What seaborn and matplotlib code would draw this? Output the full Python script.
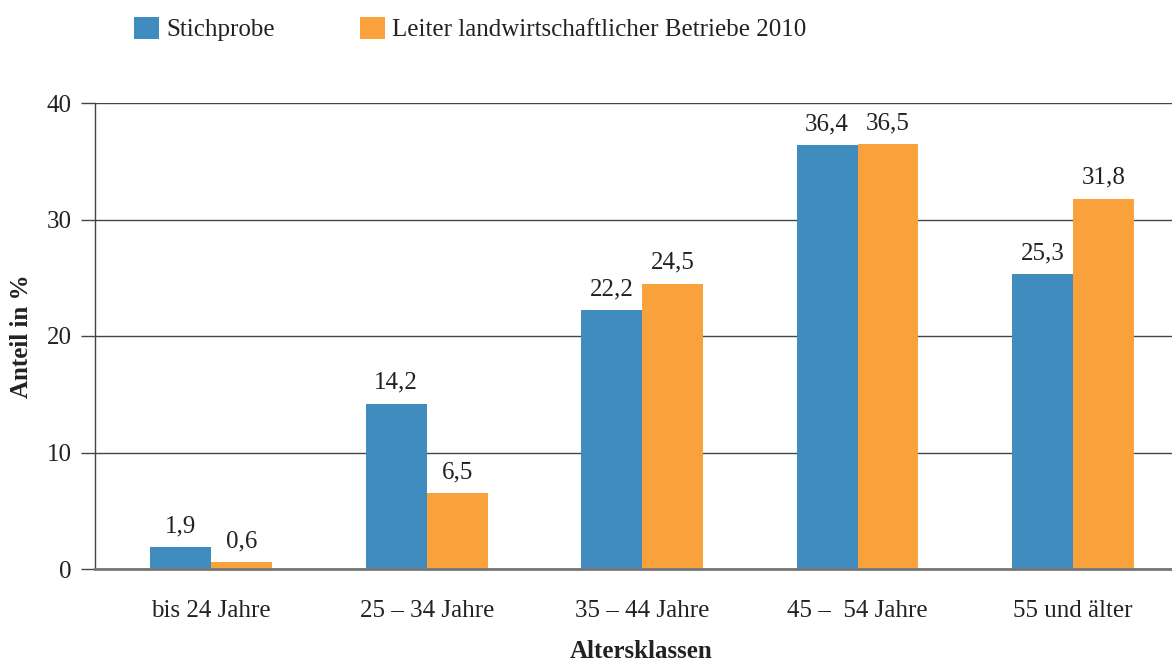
import matplotlib
matplotlib.use("Agg")
import matplotlib.pyplot as plt
import seaborn as sns
import pandas as pd
from matplotlib.patches import Patch

categories = ["bis 24 Jahre", "25 – 34 Jahre", "35 – 44 Jahre", "45 –  54 Jahre", "55 und älter"]
series_names = ["Stichprobe", "Leiter landwirtschaftlicher Betriebe 2010"]
stichprobe = [1.9, 14.2, 22.2, 36.4, 25.3]
leiter = [0.6, 6.5, 24.5, 36.5, 31.8]
y_ticks = [0, 10, 20, 30, 40]
colors = ["#418CBF", "#F9A13A"]

sns.set_theme(style="white")
plt.rcParams["font.family"] = ["Liberation Serif", "DejaVu Serif"]

df = pd.DataFrame({
    "Altersklasse": categories * 2,
    "Serie": [series_names[0]] * len(categories) + [series_names[1]] * len(categories),
    "Wert": stichprobe + leiter,
})

fig = plt.figure(figsize=(11.72, 6.62), dpi=100)
ax = fig.add_axes([95 / 1172, 1 - 569 / 662, 1 - 95 / 1172, (569 - 103) / 662])

sns.barplot(data=df, x="Altersklasse", y="Wert", hue="Serie", order=categories,
            hue_order=series_names, palette=colors, width=0.566, saturation=1,
            ax=ax, legend=False, zorder=3, linewidth=0)

for cont in ax.containers:
    labels = [f"{b.get_height():.1f}".replace(".", ",") for b in cont]
    ax.bar_label(cont, labels=labels, padding=7, fontsize=18, color="#222222")

ax.set_xlim(-0.54, 4.46)
ax.set_ylim(0, 40)
ax.set_yticks(y_ticks)
ax.set_yticklabels([str(v) for v in y_ticks], fontsize=18, color="#222222")
ax.tick_params(axis="x", labelsize=18, colors="#222222", length=0, pad=22)
ax.tick_params(axis="y", length=10, width=1, color="#444444", pad=7, left=True)
for lab in ax.get_xticklabels():
    lab.set_color("#222222")

ax.yaxis.grid(True, color="#444444", linewidth=1, zorder=0)
ax.xaxis.grid(False)
for s in ["top", "right"]:
    ax.spines[s].set_visible(False)
ax.spines["left"].set_color("#444444")
ax.spines["left"].set_linewidth(1)
ax.spines["bottom"].set_color("#777777")
ax.spines["bottom"].set_linewidth(2)
ax.spines["bottom"].set_zorder(4)

ax.set_xlabel("Altersklassen", fontsize=18, fontweight="bold", color="#222222")
ax.set_ylabel("Anteil in %", fontsize=18, fontweight="bold", color="#222222")
ax.xaxis.set_label_coords((641 - 95) / 1077, -(652 - 569) / 466)
ax.xaxis.label.set_va("center")
ax.yaxis.set_label_coords(-(95 - 22) / 1077, 0.5)
ax.yaxis.label.set_va("center")

handles = [Patch(facecolor=c, edgecolor="none") for c in colors]
fig.legend(handles, series_names, loc="center left", bbox_to_anchor=(111 / 1172, 1 - 29 / 662),
           ncol=2, frameon=False, fontsize=18, handlelength=1.0, handleheight=1.0,
           handletextpad=0.3, columnspacing=3.4, labelcolor="#222222")

fig.savefig("out.png", dpi=100)
